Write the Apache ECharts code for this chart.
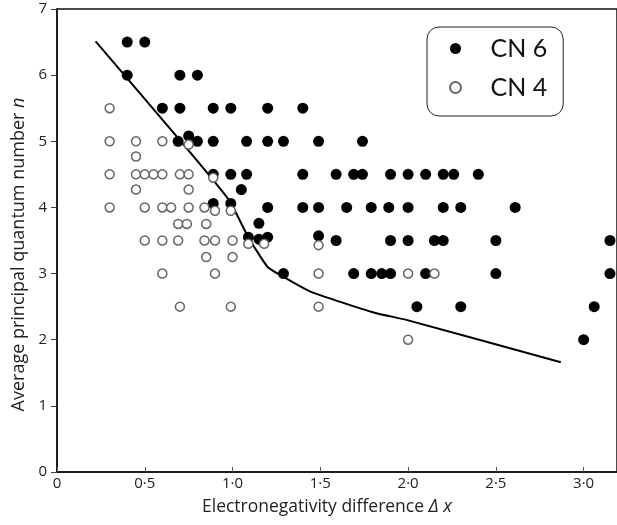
<!DOCTYPE html>
<html>
<head>
<meta charset="utf-8">
<script src="https://cdn.jsdelivr.net/npm/echarts@6/dist/echarts.min.js"></script>
<style>html,body{margin:0;padding:0;background:#fff}#c{width:617px;height:525px}</style>
</head>
<body>
<div id="c"></div>
<script>
// CN 6 (filled circles): [electronegativity difference, average principal quantum number]
var cn6Points = [
  [0.40,6.5],[0.50,6.5],
  [0.40,6.0],[0.70,6.0],[0.80,6.0],
  [0.60,5.5],[0.70,5.5],[0.89,5.5],[0.99,5.5],[1.20,5.5],[1.40,5.5],
  [0.69,5.0],[0.75,5.08],[0.80,5.0],[0.89,5.0],[1.08,5.0],[1.20,5.0],[1.29,5.0],[1.49,5.0],[1.74,5.0],
  [0.89,4.5],[0.99,4.5],[1.08,4.5],[1.40,4.5],[1.59,4.5],[1.69,4.5],[1.74,4.5],[1.90,4.5],[2.00,4.5],[2.10,4.5],[2.20,4.5],[2.26,4.5],[2.40,4.5],
  [1.05,4.27],
  [0.89,4.06],[0.99,4.06],[1.20,4.0],[1.40,4.0],[1.49,4.0],[1.65,4.0],[1.79,4.0],[1.89,4.0],[2.00,4.0],[2.20,4.0],[2.30,4.0],[2.61,4.0],
  [1.15,3.76],
  [1.09,3.55],[1.15,3.52],[1.20,3.55],[1.49,3.57],[1.59,3.5],[1.90,3.5],[2.00,3.5],[2.15,3.5],[2.20,3.5],[2.50,3.5],[3.15,3.5],
  [1.29,3.0],[1.69,3.0],[1.79,3.0],[1.85,3.0],[1.90,3.0],[2.10,3.0],[2.50,3.0],[3.15,3.0],
  [2.05,2.5],[2.30,2.5],[3.06,2.5],
  [3.00,2.0]
];
// CN 4 (open circles)
var cn4Points = [
  [0.30,5.5],
  [0.30,5.0],[0.45,5.0],[0.60,5.0],[0.75,4.95],
  [0.45,4.77],
  [0.30,4.5],[0.45,4.5],[0.50,4.5],[0.55,4.5],[0.60,4.5],[0.70,4.5],[0.75,4.5],[0.89,4.45],
  [0.45,4.27],[0.75,4.27],
  [0.30,4.0],[0.50,4.0],[0.60,4.0],[0.65,4.0],[0.75,4.0],[0.84,4.0],[0.90,3.95],[0.99,3.95],
  [0.69,3.75],[0.74,3.75],[0.85,3.75],
  [0.50,3.5],[0.60,3.5],[0.69,3.5],[0.84,3.5],[0.90,3.5],[1.00,3.5],[1.09,3.45],[1.18,3.45],[1.49,3.43],
  [0.85,3.25],[1.00,3.25],
  [0.60,3.0],[0.90,3.0],[1.49,3.0],[2.00,3.0],[2.15,3.0],
  [0.70,2.5],[0.99,2.5],[1.49,2.5],
  [2.00,2.0]
];
// Dividing curve
var curvePoints = [
  [0.22,6.51],[0.75,4.86],[0.98,4.11],[1.09,3.55],[1.20,3.10],[1.31,2.92],
  [1.45,2.72],[1.64,2.55],[1.82,2.40],[1.99,2.30],[2.87,1.66]
];
var xTickLabels = ['0','0·5','1·0','1·5','2·0','2·5','3·0'];
var yTickLabels = ['0','1','2','3','4','5','6','7'];
var legendNames = ['CN 6','CN 4'];

var chart = echarts.init(document.getElementById('c'), null, {renderer:'canvas'});
var font = 'Open Sans';
chart.setOption({
  animation:false,
  backgroundColor:'#fff',
  grid:{left:57, right:-5, top:9, bottom:53, show:true, borderColor:'#111', borderWidth:1.5, backgroundColor:'transparent'},
  xAxis:{
    type:'value', min:0, max:3.19, interval:0.5,
    name:'Electronegativity difference {it|Δ x}',
    nameLocation:'middle', nameGap:26,
    nameTextStyle:{fontFamily:font, fontSize:17.5, color:'#222', padding:[0,20,0,0],
      rich:{it:{fontFamily:font, fontSize:18, fontStyle:'italic', color:'#222'}}},
    axisLine:{lineStyle:{color:'#111', width:1.5}},
    axisTick:{inside:true, length:5, lineStyle:{color:'#555'}},
    axisLabel:{fontFamily:font, fontSize:15, color:'#222', margin:4, showMaxLabel:false,
      formatter:function(v){var i=Math.round(v/0.5); return Math.abs(v-i*0.5)<1e-6 && i<xTickLabels.length ? xTickLabels[i] : '';}},
    splitLine:{show:false}
  },
  yAxis:{
    type:'value', min:0, max:7, interval:1,
    name:'Average principal quantum number {it|n}',
    nameLocation:'middle', nameGap:25,
    nameTextStyle:{fontFamily:font, fontSize:18, color:'#222', padding:[0,28,0,0],
      rich:{it:{fontFamily:font, fontSize:18, fontStyle:'italic', color:'#222'}}},
    axisLine:{lineStyle:{color:'#111', width:1.5}},
    axisTick:{inside:false, length:6, lineStyle:{color:'#444'}},
    axisLabel:{fontFamily:font, fontSize:15, color:'#222', margin:10,
      formatter:function(v){return yTickLabels[Math.round(v)];}},
    splitLine:{show:false}
  },
  legend:{
    data:legendNames, orient:'vertical', left:427, top:27,
    backgroundColor:'#fff', borderColor:'#222', borderWidth:1, borderRadius:12,
    padding:[9,16,16,22], itemGap:14, itemWidth:12, itemHeight:11,
    textStyle:{fontFamily:'Lato', fontSize:25, color:'#111', padding:[0,0,0,24]}
  },
  series:[
    {name:legendNames[0], type:'scatter', data:cn6Points, symbol:'circle', symbolSize:11, z:3,
     itemStyle:{color:'#000', opacity:1}},
    {name:legendNames[1], type:'scatter', data:cn4Points, symbol:'circle', symbolSize:9, z:4,
     itemStyle:{color:'#fff', borderColor:'#666', borderWidth:1.5, opacity:1}},
    {name:'curve', type:'line', data:curvePoints, symbol:'none', z:2, smooth:0.15,
     lineStyle:{color:'#000', width:2}}
  ]
});
</script>
</body>
</html>
